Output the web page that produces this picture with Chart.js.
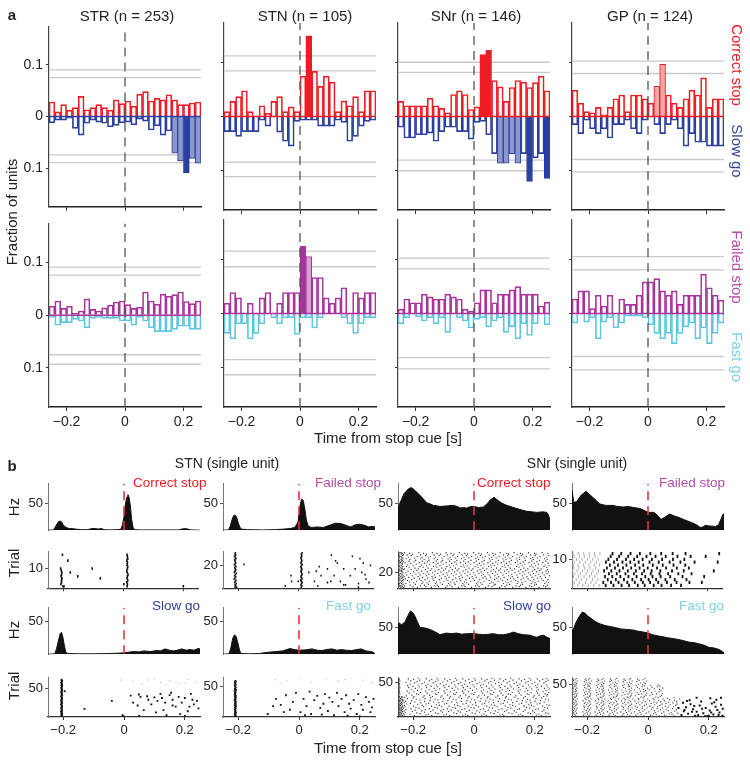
<!DOCTYPE html>
<html><head><meta charset="utf-8">
<script src="https://cdn.jsdelivr.net/npm/chart.js@4.4.0/dist/chart.umd.min.js"></script>
<style>
html,body{margin:0;padding:0;background:#fff;}
body{width:750px;height:760px;position:relative;overflow:hidden;font-family:"Liberation Sans",Arial,Helvetica,sans-serif;}
</style></head><body>
<script>
// ---------------- DATA: panel a (fraction of units, 20 ms bins) ----------------
const binCenters = [-0.25,-0.23,-0.21,-0.19,-0.17,-0.15,-0.13,-0.11,-0.09,-0.07,-0.05,-0.03,-0.01,0.01,0.03,0.05,0.07,0.09,0.11,0.13,0.15,0.17,0.19,0.21,0.23,0.25];
const xTickVals = [-0.2, 0, 0.2];
const fracTickVals = [-0.1, 0, 0.1];
const regionNames = ["STR","STN","SNr","GP"];
const unitCounts = [253,105,146,124];

const strCorrectStop = [0.028,0.009,0.023,0.012,0.017,0.039,0.013,0.017,0.023,0.017,0.012,0.032,0.025,0.030,0.020,0.043,0.048,0.030,0.035,0.032,0.042,0.032,0.023,0.023,0.026,0.028];
const strSlowGo = [-0.012,-0.007,-0.007,-0.003,-0.023,-0.036,-0.013,-0.007,-0.011,-0.013,-0.020,-0.017,-0.012,-0.011,-0.016,-0.005,-0.009,-0.026,-0.018,-0.036,-0.028,-0.071,-0.086,-0.109,-0.081,-0.090];
const stnCorrectStop = [0.009,0.028,0.037,0.048,0.009,0,0.020,0.006,0.028,0.037,0.009,0.018,0.009,0.075,0.150,0.084,0.056,0.075,0.064,0.009,0.029,0.020,0.037,0.009,0.048,0.048];
const stnSlowGo = [-0.028,-0.028,-0.037,-0.028,-0.028,-0.028,-0.007,-0.018,0,-0.029,-0.046,-0.055,-0.009,-0.007,-0.007,-0.007,-0.018,-0.018,-0.018,-0.007,-0.011,-0.046,-0.037,-0.018,-0.009,-0.007];
const snrCorrectStop = [0.028,0.020,0.020,0.020,0.020,0.034,0.020,0.015,0.007,0.041,0.048,0.041,0.013,0.018,0.115,0.123,0.067,0.055,0.028,0.054,0.067,0.064,0.054,0.063,0.075,0.048];
const snrSlowGo = [-0.020,-0.040,-0.040,-0.034,-0.034,-0.031,-0.046,-0.028,-0.020,-0.020,-0.028,-0.028,-0.042,-0.011,-0.009,-0.034,-0.069,-0.087,-0.087,-0.069,-0.087,-0.069,-0.121,-0.077,-0.069,-0.115];
const gpCorrectStop = [0.049,0.025,0.009,0.007,0.017,0.003,0.017,0.033,0.040,0.009,0.040,0.040,0.033,0.025,0.056,0.097,0.040,0.025,0.017,0.033,0.049,0.040,0.072,0.017,0.033,0.033];
const gpSlowGo = [-0.015,-0.032,-0.007,-0.023,-0.032,-0.023,-0.040,-0.015,-0.015,-0.007,-0.023,-0.032,-0.007,0,-0.015,-0.032,-0.015,-0.007,-0.023,-0.055,-0.032,-0.048,-0.048,-0.055,-0.055,-0.055];

const strFailedStop = [0.017,0.027,0.013,0.017,0.004,0.008,0.031,0.011,0.008,0.014,0.019,0.025,0.027,0.020,0.013,0.015,0.044,0.027,0.021,0.040,0.036,0.039,0.044,0.026,0.022,0.027];
const strFastGo = [-0.004,-0.019,-0.014,-0.014,-0.008,-0.011,-0.024,-0.006,-0.004,-0.006,-0.006,-0.006,-0.011,-0.011,-0.019,-0.004,-0.011,-0.024,-0.031,-0.031,-0.031,-0.027,-0.021,-0.021,-0.027,-0.027];
const stnFailedStop = [0.019,0.039,0.029,0,0.019,0,0.029,0.039,0,0.019,0.039,0.039,0.039,0.125,0.106,0.067,0.067,0.029,0.019,0.029,0.048,0,0.039,0.029,0.039,0.039];
const stnFastGo = [-0.037,-0.047,-0.019,-0.019,-0.047,-0.037,-0.019,0,-0.008,-0.019,-0.008,-0.008,-0.039,-0.008,-0.008,-0.027,-0.008,0,0,0,-0.008,-0.019,-0.037,-0.019,-0.008,-0.008];
const snrFailedStop = [0.008,0.027,0.020,0.020,0.036,0.031,0.027,0.027,0.036,0.031,0.027,0.008,0.004,0.020,0.044,0.044,0.020,0.036,0.036,0.044,0.050,0.036,0.036,0.036,0.014,0.021];
const snrFastGo = [-0.019,-0.008,0,-0.006,-0.014,-0.008,-0.019,-0.008,-0.035,0,-0.008,-0.014,-0.027,-0.011,-0.008,-0.025,-0.014,-0.008,-0.035,-0.025,-0.047,-0.019,-0.041,-0.019,0,-0.021];
const gpFailedStop = [0.027,0.042,0.042,0.009,0.034,0.014,0.034,0,0.027,0.017,0.017,0.034,0.059,0.059,0.065,0.042,0.034,0.042,0.017,0.034,0.034,0.034,0.073,0.048,0.034,0.025];
const gpFastGo = [-0.018,0,-0.016,-0.008,-0.047,-0.016,-0.008,-0.027,-0.018,-0.005,-0.005,-0.005,-0.008,-0.021,-0.037,-0.047,-0.037,-0.056,-0.037,-0.025,-0.018,-0.047,-0.027,-0.056,-0.037,-0.018];

// significant bins (indices): light = weaker, dark = strongest
const strSlowGoLight = [21,22,24,25], strSlowGoDark = [23];
const stnCorrectStopDark = [14];
const snrCorrectStopDark = [14,15];
const snrSlowGoLight = [17,18,19,20], snrSlowGoDark = [22,25];
const gpCorrectStopLight = [14,15];
const stnFailedStopDark = [13], stnFailedStopLight = [14];

// significance thresholds (grey lines)
const strThrTop = [0.090,0.075,-0.074,-0.089], strThrBottom = [0.091,0.076,-0.075,-0.093];
const stnThrTop = [0.113,0.085,-0.085,-0.112], stnThrBottom = [0.116,0.087,-0.086,-0.114];
const snrThrTop = [0.101,0.082,-0.081,-0.101], snrThrBottom = [0.103,0.083,-0.082,-0.103];
const gpThrTop = [0.103,0.080,-0.080,-0.103], gpThrBottom = [0.106,0.081,-0.080,-0.105];

// ---------------- DATA: panel b PSTHs [time s, rate Hz] ----------------
const stnCorrectStopRate = [[-0.25,0],[-0.232,0.5],[-0.226,6],[-0.22,12],[-0.215,16],[-0.21,17],[-0.205,15],[-0.2,10],[-0.195,7],[-0.19,5],[-0.18,3],[-0.17,3],[-0.16,2],[-0.14,1],[-0.12,1],[-0.105,3],[-0.095,3],[-0.085,2],[-0.075,3],[-0.065,1],[-0.05,0.5],[-0.02,1],[-0.01,2],[-0.005,10],[0,25],[0.005,50],[0.01,62],[0.013,66],[0.017,60],[0.021,45],[0.025,20],[0.03,5],[0.035,1],[0.05,0.5],[0.18,0.5],[0.19,2],[0.2,3],[0.21,2],[0.22,0.5],[0.25,0]];
const stnFailedStopRate = [[-0.25,0],[-0.232,0.5],[-0.226,8],[-0.22,20],[-0.215,27],[-0.21,28],[-0.205,24],[-0.2,14],[-0.195,6],[-0.19,2],[-0.17,1],[-0.12,0.5],[-0.08,1],[-0.05,2],[-0.03,3],[-0.015,5],[-0.008,10],[-0.003,16],[0,30],[0.005,50],[0.009,58],[0.014,55],[0.019,40],[0.024,20],[0.03,8],[0.04,5],[0.06,6],[0.08,5],[0.1,9],[0.12,13],[0.14,12],[0.16,8],[0.17,6],[0.185,10],[0.2,11],[0.215,9],[0.23,6],[0.24,7],[0.25,6]];
const snrCorrectStopRate = [[-0.25,42],[-0.24,55],[-0.23,68],[-0.215,77],[-0.205,79],[-0.195,74],[-0.178,65],[-0.165,57],[-0.156,51],[-0.145,49],[-0.134,46],[-0.12,45],[-0.112,44],[-0.09,45],[-0.068,46],[-0.055,44],[-0.046,41],[-0.035,42],[-0.024,41],[-0.01,44],[0,44],[0.015,42],[0.031,43],[0.045,50],[0.053,56],[0.066,61],[0.075,57],[0.086,52],[0.1,48],[0.108,46],[0.125,43],[0.141,40],[0.16,37],[0.174,35],[0.19,34],[0.207,33],[0.225,34],[0.24,33],[0.245,28],[0.25,19]];
const snrFailedStopRate = [[-0.25,75],[-0.244,51],[-0.233,54],[-0.22,65],[-0.204,72],[-0.192,66],[-0.182,61],[-0.17,55],[-0.16,49],[-0.148,47],[-0.137,46],[-0.115,46],[-0.1,44],[-0.081,43],[-0.065,44],[-0.047,42],[-0.035,41],[-0.025,40],[-0.01,36],[0,33],[0.02,33],[0.03,28],[0.043,20],[0.055,24],[0.071,30],[0.08,28],[0.088,26],[0.1,24],[0.121,19],[0.135,16],[0.144,14],[0.16,10],[0.172,5],[0.18,6],[0.189,9],[0.2,8],[0.222,7],[0.232,10],[0.239,19],[0.247,30],[0.25,30]];
const stnSlowGoRate = [[-0.25,0],[-0.228,0.5],[-0.222,8],[-0.215,22],[-0.21,31],[-0.206,33],[-0.202,28],[-0.197,15],[-0.192,4],[-0.185,1],[-0.15,0.5],[-0.1,0.5],[-0.05,1],[-0.02,1.5],[0,2],[0.015,3],[0.032,4],[0.05,3.5],[0.065,5],[0.085,4],[0.108,5.5],[0.12,5],[0.135,8],[0.15,6],[0.162,5],[0.175,6],[0.19,8],[0.205,6],[0.216,7],[0.23,6],[0.243,8.5],[0.25,8]];
const stnFastGoRate = [[-0.25,0],[-0.23,0.5],[-0.224,10],[-0.218,24],[-0.212,29],[-0.207,27],[-0.2,15],[-0.195,5],[-0.19,1],[-0.16,0.5],[-0.13,1],[-0.1,3],[-0.075,4],[-0.054,5],[-0.03,8.5],[-0.015,7],[0,6],[0.02,6.5],[0.043,8],[0.06,6],[0.075,5.5],[0.09,7],[0.108,8],[0.125,6],[0.14,7],[0.155,6],[0.173,5.5],[0.19,7],[0.205,8],[0.22,5],[0.235,4],[0.245,3],[0.25,0]];
const snrSlowGoRate = [[-0.25,59],[-0.246,59],[-0.238,56],[-0.227,61],[-0.215,76],[-0.209,82],[-0.2,78],[-0.195,73],[-0.185,60],[-0.178,51],[-0.165,50],[-0.156,49],[-0.145,47],[-0.134,44],[-0.12,40],[-0.112,37],[-0.1,39],[-0.09,40],[-0.075,39],[-0.057,40],[-0.04,38],[-0.024,39],[0,39],[0.015,38],[0.031,37],[0.05,38],[0.064,39],[0.08,37],[0.097,37],[0.115,39],[0.13,42],[0.145,39],[0.163,37],[0.185,36],[0.2,33],[0.207,32],[0.218,35],[0.229,36],[0.24,32],[0.25,30]];
const snrFastGoRate = [[-0.25,44],[-0.245,48],[-0.238,59],[-0.228,70],[-0.216,80],[-0.208,78],[-0.199,73],[-0.185,67],[-0.171,61],[-0.155,57],[-0.138,54],[-0.12,52],[-0.104,50],[-0.09,48],[-0.07,47],[-0.05,46],[-0.036,44],[-0.015,42],[0,40],[0.015,37],[0.031,35],[0.05,33],[0.065,31],[0.08,30],[0.099,28],[0.115,26],[0.133,23],[0.15,22],[0.166,20],[0.185,17],[0.2,13],[0.215,12],[0.234,9],[0.245,5],[0.25,2]];

// ---------------- DATA: panel b rasters (spike times in ms, one row per trial) ----------------
const stnCorrectStopTrials = [[-200,-197,13,200],[-207,2,14],[-205,12],[-205,15],[-204,-76,13],[-206,-151,14],[-205,16],[-204,-176,13],[-206,12],[-208,-103,14],[15],[13],[14],[-184,12],[15],[14],[-202,13]];
const stnFailedStopTrials = [[-210,10,-205,200],[-208,12,-43,65],[-210,9,151,157],[-206,11,200],[-211,13,97,235],[-209,10,-22,0,54,108,140],[-207,8],[-213,12,225],[-210,11],[-208,9],[-211,10,-24,76,119,173],[-209,13,222],[-206,12],[-212,10,35,211],[-210,9,60],[-208,11],[-209,12,97,151,189],[-211,10],[-207,8,70],[-210,11,240],[-212,13,-180],[-208,9,130,216],[-209,10],[-210,12,124],[-211,11],[-207,10,205],[-209,9],[-212,12,180],[-208,11,110],[-210,10],[-209,13]];
const stnSlowGoColumn = [-206,-204,-205,-207,-203,-205,-206,-204,-208,-205,-203,-206,-205,-204,-207,-205,-206,-203,-205,-204,-206,-208,-205,-204,-203,-206,-205,-207,-204,-205,-206,-203,-205,-204,-206,-207,-205,-203,-204,-206,-205,-204,-207,-205,-206,-203,-205,-204,-206,-205,-207,-204,-205,-203,-206,-205,-204,-206,-205,-207,-204,-205,-203,-206,-205];
const stnSlowGoScatter = [[22,37],[49,39],[54,35],[76,36],[30,25],[45,20],[100,34],[110,28],[130,12],[140,3],[150,38],[160,30],[170,18],[190,25],[200,33],[210,10],[220,40],[230,22],[240,28],[245,15],[120,40],[90,22],[65,12],[135,25],[185,5],[200,2],[155,42],[180,35],[225,30],[105,8],[80,30],[160,20],[215,18],[125,33],[-130,14],[-40,28],[-5,3],[0,1],[50,2],[-195,45]];
const stnSlowGoFaint = [[30,62],[80,64],[120,60],[150,63],[180,58],[210,65],[240,61],[60,57],[100,66],[200,59],[-10,64],[140,56]];
const stnFastGoColumn = [-209,-211,-208,-210,-212,-209,-207,-210,-211,-208,-210,-209,-212,-208,-210,-211,-209,-207,-210,-212,-208,-209,-211,-210,-207,-209,-212,-210,-208,-211,-209,-210,-207,-211,-210,-208,-212,-209,-210,-211,-208,-210,-209,-212,-207,-210,-211,-209,-208,-210,-211,-209,-210,-208,-212,-209,-210,-211,-207,-209];
const stnFastGoScatter = [[-103,5],[-76,30],[-60,20],[-43,36],[-30,12],[-20,25],[-10,40],[5,8],[15,30],[25,18],[35,42],[40,5],[50,28],[60,35],[70,15],[80,22],[85,38],[95,10],[100,32],[110,25],[115,3],[125,40],[130,18],[140,30],[150,8],[155,36],[165,22],[170,14],[180,28],[190,5],[195,38],[205,20],[210,12],[220,33],[230,25],[235,8],[245,30],[240,16],[-85,18],[-50,8],[20,3],[75,4],[160,2],[200,1]];
const stnFastGoFaint = [[-80,62],[-40,60],[0,64],[40,58],[90,63],[130,59],[170,65],[210,61],[240,57],[60,66],[-60,56],[150,62]];

const snrCorrectStopTrials = [
[-249,-240,-231,-186,-140,-93,-51,-8,38,84,127,171,214],[-247,-236,-201,-158,-117,-72,-29,17,59,102,149,190,236],
[-250,-242,-228,-176,-129,-88,-40,5,47,91,138,183,229],[-246,-237,-210,-163,-121,-79,-33,12,66,108,153,199,241],
[-248,-233,-193,-150,-104,-62,-18,27,70,117,160,205],[-245,-238,-224,-171,-126,-84,-37,9,52,97,142,188,233],
[-249,-241,-198,-155,-111,-66,-24,22,63,112,157,201,246],[-247,-234,-212,-168,-123,-77,-31,14,58,104,146,193,238],
[-250,-239,-189,-147,-99,-57,-11,33,79,122,168,211],[-244,-236,-219,-174,-132,-86,-44,2,49,94,137,185,228],
[-248,-232,-205,-161,-114,-70,-26,19,68,110,155,197,243],[-246,-240,-226,-179,-135,-91,-47,-3,41,88,131,178,222],
[-249,-237,-196,-152,-107,-60,-15,30,75,120,163,209],[-247,-235,-215,-169,-127,-82,-38,7,54,99,144,191,235],
[-250,-241,-230,-184,-138,-95,-49,-6,36,81,126,174,218],[-245,-233,-203,-157,-113,-68,-22,25,69,114,159,203,248],
[-248,-239,-221,-177,-130,-87,-42,4,50,96,141,186,231],[-246,-236,-191,-149,-102,-59,-13,31,77,124,166,213],
[-249,-242,-209,-165,-119,-74,-30,16,61,106,151,196,240],[-247,-234,-225,-181,-136,-90,-46,-1,45,89,135,180,225],
[-250,-238,-199,-154,-109,-64,-20,24,71,115,161,206,245],[-244,-237,-217,-172,-128,-83,-36,11,56,101,147,192,237],
[-248,-240,-188,-144,-100,-55,-9,35,82,125,170,216],[-246,-233,-207,-160,-116,-71,-27,20,64,109,154,200,242],
[-249,-239,-229,-183,-139,-94,-50,-4,42,87,133,177,221],[-247,-236,-194,-151,-106,-61,-16,29,74,119,164,210],
[-250,-241,-213,-167,-122,-78,-32,13,57,103,148,194,239],[-245,-234,-222,-178,-133,-89,-43,3,48,93,140,184,230],
[-248,-238,-200,-156,-112,-67,-23,23,67,113,158,202,247],[-246,-240,-218,-173,-125,-81,-35,10,55,100,145,189,234],
[-249,-235,-190,-146,-101,-58,-12,32,78,121,167,212],[-247,-237,-208,-162,-118,-73,-28,18,62,107,152,198,244],
[-250,-242,-227,-180,-134,-92,-45,0,46,90,136,181,226],[-244,-233,-197,-153,-108,-63,-19,26,72,116,162,207],
[-248,-239,-214,-170,-124,-80,-34,8,53,98,143,190,236],[-246,-236,-192,-148,-103,-56,-10,34,80,123,169,215],
[-249,-240,-211,-164,-120,-75,-29,15,60,105,150,195,241],[-247,-234,-223,-175,-131,-85,-41,6,51,95,139,187,232],
[-250,-238,-195,-150,-105,-62,-17,28,73,118,165,208],[-245,-237,-216,-171,-126,-79,-33,12,58,103,149,193,238],
[-248,-241,-187,-143,-98,-54,-8,37,83,127,172,217],[-246,-235,-206,-159,-115,-69,-25,21,65,111,156,201,246],
[-249,-232,-220,-176,-131,-88,-39,6,50,97,142,186,229],[-247,-239,-202,-157,-110,-66,-21,24,70,114,160,204],
[-250,-236,-212,-166,-122,-76,-30,16,62,108,153,199,243],[-244,-240,-228,-181,-137,-92,-48,-2,44,86,132,179,224]];

const snrFailedStopEarly = [[-247,-231,-214,-196,-178,-160],[-243,-226,-205,-187,-170],[-249,-236,-219,-201,-182,-164],[-245,-228,-210,-192,-174],[-241,-222,-203,-185,-167],[-248,-233,-215,-198,-180,-162],[-244,-227,-208,-190,-171],[-246,-230,-212,-194,-176,-158],[-242,-224,-206,-188,-169],[-249,-235,-217,-199,-181,-163],[-243,-225,-209,-191,-173],[-247,-229,-211,-193,-175,-157]];
const snrFailedStopLate = [[-138,-112,-85,-60,-31,-8,22,48,80,113],[-146,-120,-95,-66,-41,-14,10,37,66,98,141,182],[-131,-104,-77,-49,-20,5,30,61,92,131],[-140,-116,-89,-62,-35,-6,18,45,77,118,190],[-127,-101,-72,-44,-17,12,41,70,104,148],[-143,-119,-92,-64,-37,-10,15,44,83,122,222],[-134,-107,-80,-53,-25,2,33,63,99,139],[-124,-97,-69,-40,-13,19,52,88,127],[-137,-110,-82,-56,-28,8,39,75,111,158,235],[-129,-100,-70,-43,-15,16,50,86,124],[-121,-93,-63,-33,-2,28,62,101,145,195],[-115,-86,-55,-24,11,47,85,128,240]];

const snrSlowGoTrials = [
[-249,-241,-233,-170,-112,-49,12,73,131,192,238],[-247,-236,-196,-139,-80,-21,40,98,160,221],[-250,-243,-229,-158,-99,-37,25,86,147,205],
[-246,-238,-211,-150,-91,-28,33,94,154,213],[-248,-240,-231,-177,-118,-57,4,66,125,186,244],[-245,-237,-188,-126,-66,-6,55,115,178,236],
[-249,-242,-226,-163,-104,-44,18,79,139,199],[-247,-235,-203,-142,-84,-24,37,101,162,224],[-250,-239,-230,-172,-109,-52,9,70,133,193],
[-246,-241,-194,-135,-75,-15,47,108,168,230],[-248,-236,-224,-160,-101,-40,21,82,144,203],[-245,-238,-207,-147,-88,-30,31,92,150,211],
[-249,-243,-232,-181,-121,-61,0,61,121,183,242],[-247,-237,-191,-129,-70,-10,51,112,173,233],[-250,-240,-227,-166,-106,-46,15,76,137,197],
[-246,-235,-199,-140,-82,-19,42,103,165,226],[-248,-242,-229,-170,-114,-54,7,68,128,189,247],[-245,-239,-185,-124,-64,-4,58,118,180,239],
[-249,-236,-221,-157,-97,-36,27,88,148,208],[-247,-241,-209,-149,-90,-26,35,96,157,217],[-250,-238,-230,-175,-116,-56,5,64,127,187],
[-246,-237,-195,-133,-73,-13,49,110,171,231],[-248,-243,-225,-162,-103,-42,20,80,141,201],[-245,-235,-205,-145,-86,-23,39,100,159,219],
[-249,-240,-231,-178,-119,-59,2,63,123,185,245],[-247,-236,-190,-128,-68,-8,53,114,176,235],[-250,-242,-219,-161,-100,-41,23,84,145,204],
[-246,-239,-200,-143,-81,-20,44,104,163,223],[-248,-234,-228,-168,-110,-50,11,72,134,195],[-245,-238,-197,-137,-77,-16,46,106,169,229],
[-249,-222,-164,-105,-45,16,78,138,198,240],[-247,-204,-146,-87,-27,34,95,155,214],[-250,-182,-122,-62,-1,60,120,181,241],
[-244,-189,-127,-67,-7,54,113,175,234],[-248,-213,-154,-95,-34,28,89,149,209],[-246,-176,-117,-58,3,65,126,188,246],
[-249,-198,-138,-78,-18,45,105,167,227],[-245,-220,-159,-98,-38,24,85,146,206],[-247,-186,-125,-65,-5,56,117,177,237],
[-250,-206,-148,-89,-29,32,93,152,212],[-246,-173,-113,-53,8,69,130,190,248],[-248,-193,-131,-72,-12,50,111,172,232],
[-244,-215,-156,-96,-35,26,87,147,207],[-249,-180,-120,-60,1,62,122,184,243],[-247,-201,-141,-83,-22,41,102,161,222],
[-250,-218,-158,-99,-39,22,83,143,203],[-245,-184,-123,-63,-3,57,119,179,238],[-248,-210,-151,-92,-31,30,91,151,210],
[-246,-171,-111,-51,10,71,132,191],[-249,-195,-134,-74,-14,48,109,170,230],[-247,-224,-163,-102,-43,19,81,140,200],
[-250,-187,-126,-66,-6,55,116,178,236],[-244,-208,-147,-88,-28,36,97,156,216],[-248,-178,-118,-57,4,67,128,187,244],
[-246,-199,-139,-79,-17,43,104,166,226],[-249,-216,-157,-97,-37,25,86,148,208],[-247,-183,-121,-61,0,59,121,182,239]];

const snrFastGoTrials = [
[-246,-205,-163,-121,-78,-31,14,62],[-238,-194,-150,-107,-60,-13,37,85],[-249,-212,-171,-128,-84,-40,8,55],[-241,-199,-156,-113,-67,-22,27,79],
[-247,-207,-166,-124,-80,-34,18,70],[-235,-190,-146,-101,-55,-6,45,98],[-244,-201,-159,-117,-71,-26,24,76],[-250,-214,-174,-133,-89,-45,3,52],
[-239,-196,-152,-109,-63,-17,33,88],[-245,-203,-161,-119,-74,-29,21,67],[-236,-192,-148,-104,-58,-10,41,93],[-248,-210,-169,-126,-82,-37,11,60],
[-242,-198,-155,-111,-65,-19,30,81],[-233,-188,-143,-98,-52,-3,48,102],[-247,-208,-167,-125,-81,-35,16,66],[-240,-197,-153,-110,-64,-18,32,84],
[-249,-211,-170,-129,-86,-42,6,57],[-237,-193,-149,-105,-59,-11,39,91],[-244,-202,-160,-118,-73,-27,22,73],[-234,-189,-145,-100,-54,-5,46,96],
[-248,-209,-168,-127,-83,-38,10,59],[-241,-198,-154,-112,-66,-20,29,82],[-246,-206,-164,-122,-77,-32,19,68],[-236,-191,-147,-103,-57,-9,42,94],
[-250,-213,-172,-131,-87,-43,5,54],[-239,-195,-151,-108,-62,-15,35,87],[-245,-204,-162,-120,-75,-30,20,71],[-232,-187,-142,-97,-50,-1,50,104],
[-247,-207,-165,-123,-79,-33,17,64],[-240,-196,-152,-109,-63,-16,34,86],[-243,-200,-157,-114,-68,-23,26],[-237,-192,-148,-104,-58,-12,40],
[-249,-211,-169,-128,-85,-41,7],[-235,-190,-145,-101,-55,-7,44],[-246,-205,-163,-121,-76,-31,15],[-241,-199,-156,-112,-66,-21,28],
[-233,-188,-144,-99,-53,-4,47],[-248,-209,-168,-126,-82,-36,12],[-238,-194,-150,-106,-61,-14,36],[-244,-203,-160,-117,-72,-25,23],
[-236,-191,-147,-102,-56,-8,43],[-250,-212,-171,-130,-86,-44,4],[-239,-195,-151,-107,-62,-15,38],[-245,-204,-161,-119,-74,-28,21],
[-234,-189,-146,-100,-54,-2,49],[-247,-208,-166,-124,-80,-35,13],[-242,-198,-155,-111,-65,-19,31],[-237,-193,-149,-105,-60,-11,39],
[-249,-210,-170,-127,-83,-39,9],[-240,-197,-153,-110,-64,-17,33],[-246,-206,-164,-122,-78,-32],[-235,-190,-146,-102,-56,-9],
[-243,-201,-158,-115,-69,-24],[-238,-194,-150,-107,-61,-13],[-248,-209,-167,-125,-81,-37],[-233,-187,-143,-98,-52,-5],
[-245,-203,-162,-120,-75,-29],[-240,-196,-152,-108,-62,-16],[-247,-207,-165,-123,-79,-34],[-236,-191,-147,-103,-57,-10]];
const snrFastGoLate = [[110,3],[118,9],[125,15],[132,5],[140,20],[148,12],[155,2],[160,8],[170,18],[175,24],[182,6],[190,14],[195,1],[203,10],[210,21],[215,4],[222,16],[228,11],[235,7],[240,19],[246,13],[115,22],[128,25],[152,17],[165,3],[188,1],[200,2],[218,23],[232,3],[245,2],[120,11],[178,13],[208,7],[137,26],[225,27],[160,30],[205,29],[240,30],[100,14],[145,8]];

// ---------------- LAYOUT / STYLE ----------------
const FONT = '"Liberation Sans", Arial, Helvetica, sans-serif';
Chart.defaults.font.family = FONT;
Chart.defaults.color = '#222';
const C = {red:'#ee1c25', redLight:'#f6a3a3', blue:'#2b3f9e', blueLight:'#8c97cd', mag:'#a8339b', magLight:'#d8a0d0', cyan:'#5ec6df', grey:'#c9c9c9'};
const cueTime = 0;

function fmtSigned(v){ if (Math.abs(v) < 1e-9) return '0'; return (v < 0 ? '\u2212' : '') + String(Math.abs(v)); }
function fmtAbs(v){ if (Math.abs(v) < 1e-9) return '0'; return String(Math.abs(v)); }

function txt(s, x, y, o = {}) {
  const d = document.createElement('div');
  d.textContent = s;
  const ax = o.ax === undefined ? -50 : o.ax;
  d.style.cssText = `position:absolute;left:${x}px;top:${y}px;white-space:nowrap;line-height:1;font-family:${FONT};font-size:${o.size||15}px;color:${o.color||'#222'};font-weight:${o.bold?'bold':'normal'};transform:translate(${ax}%,-50%)${o.rot?` rotate(${o.rot}deg)`:''};`;
  document.body.appendChild(d);
}

function scale(min, max, tickVals, o = {}) {
  return {
    type: 'linear', min, max, offset: false,
    afterBuildTicks: s => { s.ticks = tickVals.map(v => ({value: v})); },
    ticks: {display: !!o.labels, callback: o.fmt || fmtSigned, font: {size: o.fs || 14}, color: '#222', padding: o.tp === undefined ? 2 : o.tp, maxRotation: 0, autoSkip: false},
    grid: {display: o.grid !== false, offset: false, drawOnChartArea: false, drawTicks: true, tickLength: o.tl || 3, color: o.gc || '#333', lineWidth: 1},
    border: {display: o.border !== false, color: o.bc || '#333', width: o.bw || 1.2}
  };
}

function makeChart(px, py, w, h, pad, type, datasets, xs, ys) {
  const c = document.createElement('canvas');
  const cw = pad.l + w + pad.r, ch = pad.t + h + pad.b;
  c.width = cw; c.height = ch;
  c.style.cssText = `position:absolute;left:${px - pad.l}px;top:${py - pad.t}px;width:${cw}px;height:${ch}px;`;
  document.body.appendChild(c);
  xs.afterFit = s => { s.height = pad.b; };
  ys.afterFit = s => { s.width = pad.l; };
  return new Chart(c.getContext('2d'), {
    type, data: {datasets},
    options: {
      responsive: false, animation: false, devicePixelRatio: 1, events: [],
      layout: {padding: {left: 0, top: pad.t, right: pad.r, bottom: 0}},
      plugins: {legend: {display: false}, tooltip: {enabled: false}},
      scales: {x: xs, y: ys}
    }
  });
}

// ---------------- PANEL a ----------------
const aColX = [49, 224, 398, 572];
const aRowY = [23, 220];
const aW = 152, aH = 187, aYmax = 0.174, aXmin = -0.26, aXmax = 0.26;

const panelsA = [
  {col:0,row:0, up:strCorrectStop, down:strSlowGo, thr:strThrTop, upL:[], upD:[], dnL:strSlowGoLight, dnD:strSlowGoDark, uc:C.red, ucl:C.redLight, dc:C.blue, dcl:C.blueLight, zero:C.blue},
  {col:1,row:0, up:stnCorrectStop, down:stnSlowGo, thr:stnThrTop, upL:[], upD:stnCorrectStopDark, dnL:[], dnD:[], uc:C.red, ucl:C.redLight, dc:C.blue, dcl:C.blueLight, zero:C.red},
  {col:2,row:0, up:snrCorrectStop, down:snrSlowGo, thr:snrThrTop, upL:[], upD:snrCorrectStopDark, dnL:snrSlowGoLight, dnD:snrSlowGoDark, uc:C.red, ucl:C.redLight, dc:C.blue, dcl:C.blueLight, zero:C.red},
  {col:3,row:0, up:gpCorrectStop, down:gpSlowGo, thr:gpThrTop, upL:gpCorrectStopLight, upD:[], dnL:[], dnD:[], uc:C.red, ucl:C.redLight, dc:C.blue, dcl:C.blueLight, zero:C.red},
  {col:0,row:1, up:strFailedStop, down:strFastGo, thr:strThrBottom, upL:[], upD:[], dnL:[], dnD:[], uc:C.mag, ucl:C.magLight, dc:C.cyan, dcl:C.cyan, zero:C.mag},
  {col:1,row:1, up:stnFailedStop, down:stnFastGo, thr:stnThrBottom, upL:stnFailedStopLight, upD:stnFailedStopDark, dnL:[], dnD:[], uc:C.mag, ucl:C.magLight, dc:C.cyan, dcl:C.cyan, zero:C.mag},
  {col:2,row:1, up:snrFailedStop, down:snrFastGo, thr:snrThrBottom, upL:[], upD:[], dnL:[], dnD:[], uc:C.mag, ucl:C.magLight, dc:C.cyan, dcl:C.cyan, zero:C.mag},
  {col:3,row:1, up:gpFailedStop, down:gpFastGo, thr:gpThrBottom, upL:[], upD:[], dnL:[], dnD:[], uc:C.mag, ucl:C.magLight, dc:C.cyan, dcl:C.cyan, zero:C.mag}
];

function barSet(vals, light, dark, col, colLight) {
  return {
    type: 'bar',
    data: binCenters.map((c, i) => ({x: c, y: vals[i]})),
    backgroundColor: vals.map((v, i) => dark.includes(i) ? col : (light.includes(i) ? colLight : 'rgba(255,255,255,0)')),
    borderColor: col,
    borderWidth: 1, barPercentage: 1, categoryPercentage: 1, grouped: false, order: 3
  };
}

panelsA.forEach(p => {
  const ds = [];
  p.thr.forEach(v => ds.push({type:'line', data:[{x:aXmin,y:v},{x:aXmax,y:v}], borderColor:C.grey, borderWidth:1.3, pointRadius:0, order:6}));
  ds.push(barSet(p.up, p.upL, p.upD, p.uc, p.ucl));
  ds.push(barSet(p.down, p.dnL, p.dnD, p.dc, p.dcl));
  ds.push({type:'line', data:[{x:aXmin,y:0},{x:aXmax,y:0}], borderColor:p.zero, borderWidth:1.5, pointRadius:0, order:1});
  ds.push({type:'line', data:[{x:cueTime,y:-aYmax},{x:cueTime,y:aYmax}], borderColor:'#555', borderDash:[9,6], borderWidth:1.3, pointRadius:0, order:0});
  const xs = scale(aXmin, aXmax, xTickVals, {labels: p.row === 1, tl: 4, tp: 3, bw: 1.5, bc: '#222'});
  const ys = scale(-aYmax, aYmax, fracTickVals, {labels: p.col === 0, fmt: fmtAbs, tl: 3, tp: 3, bc: '#444'});
  makeChart(aColX[p.col], aRowY[p.row], aW, aH, {l:45, t:8, r:4, b: p.row === 1 ? 24 : 8}, 'bar', ds, xs, ys);
});

// panel a text
txt('a', 12, 14, {bold:true, size:15});
const aTitleX = [127, 305, 476, 650];
regionNames.forEach((r, i) => txt(`${r} (n = ${unitCounts[i]})`, aTitleX[i], 15, {size:15}));
txt('Fraction of units', 11, 212, {rot:-90, size:15});
txt('Time from stop cue [s]', 388, 437, {size:15});
txt('Correct stop', 737, 65, {rot:90, size:15, color:C.red});
txt('Slow go', 737, 151, {rot:90, size:15, color:'#333f99'});
txt('Failed stop', 737, 267, {rot:90, size:15, color:'#b54aa8'});
txt('Fast go', 737, 357, {rot:90, size:15, color:'#7dd0e6'});

// ---------------- PANEL b ----------------
const bColX = [48, 223, 398, 572];
const bW = 152;
const bXmin = -0.25, bXmax = 0.25;
const psthTopY = 478, psthBotY = 602, psthH = 62;
const rasTopY = 545, rasTopH = 48, rasBotY = 671, rasBotH = 46;

function psth(col, y0, rate, ymax) {
  const ds = [
    {type:'line', data: rate.map(p => ({x:p[0], y:p[1]})), fill:'origin', backgroundColor:'#111', borderColor:'#111', borderWidth:1, pointRadius:0, tension:0, order:2},
    {type:'line', data:[{x:cueTime,y:0},{x:cueTime,y:ymax}], borderColor:'#e8323c', borderDash:[9,6], borderWidth:1.6, pointRadius:0, order:0}
  ];
  const xs = scale(bXmin, bXmax, xTickVals, {grid:false, border:false});
  const ys = scale(0, ymax, [50], {labels:true, fs:13, tl:3, tp:2, bc:'#777', gc:'#555', bw:1});
  makeChart(bColX[col], y0, bW, psthH, {l:45, t:4, r:4, b:0}, 'line', ds, xs, ys);
}

function rowsToPts(rows) {
  const pts = [];
  rows.forEach((times, i) => times.forEach(t => pts.push({x: t / 1000, y: i + 1})));
  return pts;
}
function pairsToPts(pairs) { return pairs.map(p => ({x: p[0] / 1000, y: p[1]})); }
function columnToPts(col) { return col.map((t, i) => ({x: t / 1000, y: i + 1})); }

function raster(col, y0, h, ymax, ytick, sets, bottom) {
  const xs = scale(bXmin, bXmax, xTickVals, {labels: bottom, fs:13, tl:3, tp:3, bc:'#333', bw:1.2});
  const ys = scale(0, ymax, [ytick], {labels:true, fs:13, tl:3, tp:2, bc:'#777', gc:'#555', bw:1});
  makeChart(bColX[col], y0, bW, h, {l:45, t:3, r:4, b: bottom ? 22 : 5}, 'scatter', sets, xs, ys);
}
function tickSet(pts, color, r, w) { return {data: pts, pointStyle:'line', rotation:90, pointRadius:r, borderColor:color, pointBorderWidth:w, borderWidth:w, backgroundColor:color}; }
function dotSet(pts, color, r) { return {data: pts, pointStyle:'rect', pointRadius:r, backgroundColor:color, borderWidth:0, pointBorderWidth:0}; }

// PSTHs
psth(0, psthTopY, stnCorrectStopRate, 86);
psth(1, psthTopY, stnFailedStopRate, 86);
psth(2, psthTopY, snrCorrectStopRate, 86);
psth(3, psthTopY, snrFailedStopRate, 86);
psth(0, psthBotY, stnSlowGoRate, 70);
psth(1, psthBotY, stnFastGoRate, 70);
psth(2, psthBotY, snrSlowGoRate, 88);
psth(3, psthBotY, snrFastGoRate, 88);

// rasters
raster(0, rasTopY, rasTopH, 18.5, 10, [tickSet(rowsToPts(stnCorrectStopTrials), '#111', 1.3, 1.6)], false);
raster(1, rasTopY, rasTopH, 32, 20, [tickSet(rowsToPts(stnFailedStopTrials), '#111', 0.9, 1.5)], false);
raster(2, rasTopY, rasTopH, 47, 20, [dotSet(rowsToPts(snrCorrectStopTrials), '#333', 0.8)], false);
raster(3, rasTopY, rasTopH, 12.6, 10, [tickSet(rowsToPts(snrFailedStopEarly), '#999', 1.6, 0.8), tickSet(rowsToPts(snrFailedStopLate), '#111', 1.6, 1.8)], false);
raster(0, rasBotY, rasBotH, 68, 50, [dotSet(columnToPts(stnSlowGoColumn), '#111', 1.1), dotSet(pairsToPts(stnSlowGoScatter), '#111', 1.3), dotSet(pairsToPts(stnSlowGoFaint), '#bbb', 0.8)], true);
raster(1, rasBotY, rasBotH, 65, 50, [dotSet(columnToPts(stnFastGoColumn), '#111', 1.1), dotSet(pairsToPts(stnFastGoScatter), '#111', 1.3), dotSet(pairsToPts(stnFastGoFaint), '#bbb', 0.8)], true);
raster(2, rasBotY, rasBotH, 57.5, 50, [dotSet(rowsToPts(snrSlowGoTrials), '#333', 0.8)], true);
raster(3, rasBotY, rasBotH, 61, 50, [dotSet(rowsToPts(snrFastGoTrials), '#444', 0.8), dotSet(pairsToPts(snrFastGoLate), '#111', 1.4)], true);

// panel b text
txt('b', 12, 465, {bold:true, size:15});
txt('STN (single unit)', 227, 463, {size:14});
txt('SNr (single unit)', 577, 463, {size:14});
txt('Correct stop', 133, 483, {ax:0, size:13.5, color:C.red});
txt('Failed stop', 315, 483, {ax:0, size:13.5, color:'#b54aa8'});
txt('Correct stop', 477, 483, {ax:0, size:13.5, color:C.red});
txt('Failed stop', 659, 483, {ax:0, size:13.5, color:'#b54aa8'});
txt('Slow go', 152, 606, {ax:0, size:13.5, color:'#333f99'});
txt('Fast go', 326, 606, {ax:0, size:13.5, color:'#7dd0e6'});
txt('Slow go', 503, 606, {ax:0, size:13.5, color:'#333f99'});
txt('Fast go', 679, 606, {ax:0, size:13.5, color:'#7dd0e6'});
txt('Hz', 13, 507, {rot:-90, size:15});
txt('Trial', 13, 563, {rot:-90, size:15});
txt('Hz', 13, 630, {rot:-90, size:15});
txt('Trial', 13, 686, {rot:-90, size:15});
txt('Time from stop cue [s]', 388, 747, {size:15});
</script>
</body></html>
